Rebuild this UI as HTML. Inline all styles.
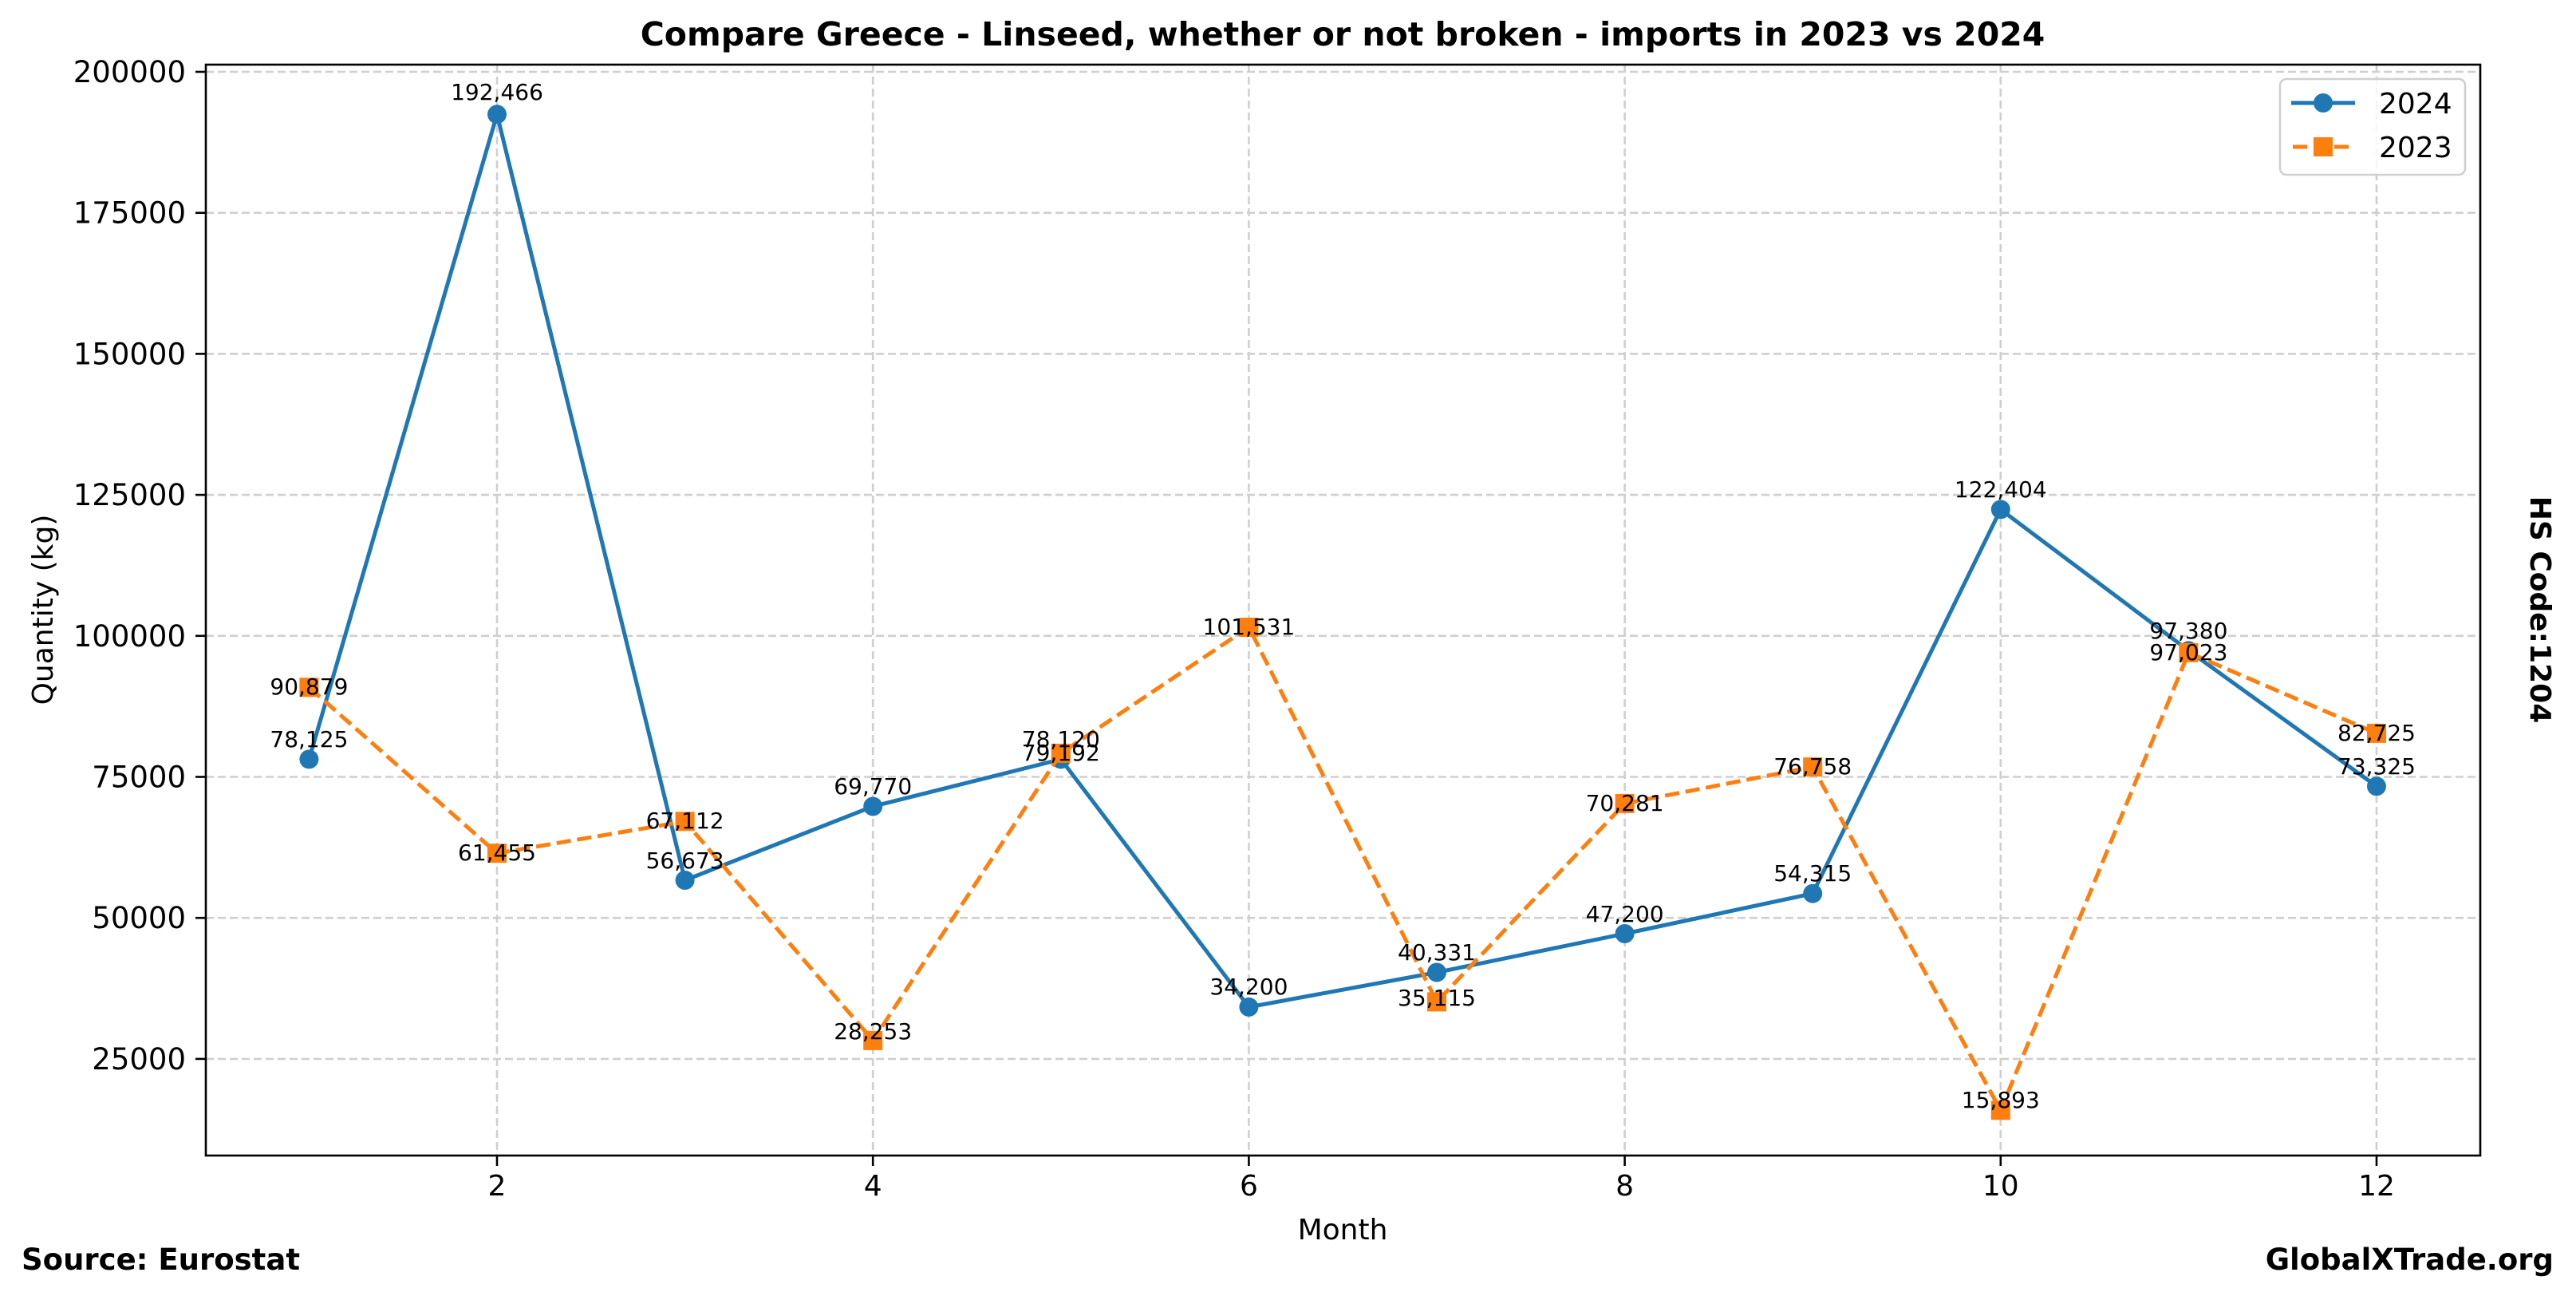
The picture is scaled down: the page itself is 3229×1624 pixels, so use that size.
<!DOCTYPE html>
<html><head><meta charset="utf-8"><style>
html,body{margin:0;padding:0;background:#fff;}
svg{display:block;font-family:"DejaVu Sans","Liberation Sans",sans-serif;}
</style></head><body>
<svg width="3229" height="1624" viewBox="0 0 3229 1624" xmlns="http://www.w3.org/2000/svg">
<rect width="3229" height="1624" fill="#fff"/>
<!-- grid -->
<g stroke="#cfcfcf" stroke-width="2.6" stroke-dasharray="10,5" fill="none">
<line x1="258" x2="3109" y1="90" y2="90"/>
<line x1="258" x2="3109" y1="266.7" y2="266.7"/>
<line x1="258" x2="3109" y1="443.4" y2="443.4"/>
<line x1="258" x2="3109" y1="620.1" y2="620.1"/>
<line x1="258" x2="3109" y1="796.8" y2="796.8"/>
<line x1="258" x2="3109" y1="973.5" y2="973.5"/>
<line x1="258" x2="3109" y1="1150.2" y2="1150.2"/>
<line x1="258" x2="3109" y1="1326.9" y2="1326.9"/>
<line y1="81" y2="1448" x1="623" x2="623"/>
<line y1="81" y2="1448" x1="1094.2" x2="1094.2"/>
<line y1="81" y2="1448" x1="1565.4" x2="1565.4"/>
<line y1="81" y2="1448" x1="2036.6" x2="2036.6"/>
<line y1="81" y2="1448" x1="2507.8" x2="2507.8"/>
<line y1="81" y2="1448" x1="2979" x2="2979"/>
</g>
<!-- 2024 -->
<polyline fill="none" stroke="#1f77b4" stroke-width="5" stroke-linejoin="round" points="387.4,951.4 623,143.3 858.6,1103 1094.2,1010.5 1329.8,951.4 1565.4,1261.9 1801,1218.5 2036.6,1170 2272.2,1119.7 2507.8,638.4 2743.4,815.3 2979,985.3"/>
<g fill="#1f77b4">
<circle cx="387.4" cy="951.4" r="12"/><circle cx="623" cy="143.3" r="12"/><circle cx="858.6" cy="1103" r="12"/><circle cx="1094.2" cy="1010.5" r="12"/><circle cx="1329.8" cy="951.4" r="12"/><circle cx="1565.4" cy="1261.9" r="12"/><circle cx="1801" cy="1218.5" r="12"/><circle cx="2036.6" cy="1170" r="12"/><circle cx="2272.2" cy="1119.7" r="12"/><circle cx="2507.8" cy="638.4" r="12"/><circle cx="2743.4" cy="815.3" r="12"/><circle cx="2979" cy="985.3" r="12"/>
</g>
<!-- 2023 -->
<polyline fill="none" stroke="#ff7f0e" stroke-width="5" stroke-dasharray="18,8" stroke-linejoin="round" points="387.4,861.3 623,1069.2 858.6,1029.3 1094.2,1303.9 1329.8,943.9 1565.4,786 1801,1255.4 2036.6,1006.9 2272.2,961.1 2507.8,1391.3 2743.4,817.8 2979,918.9"/>
<g fill="#ff7f0e">
<rect x="375.4" y="849.3" width="24" height="24"/><rect x="611" y="1057.2" width="24" height="24"/><rect x="846.6" y="1017.3" width="24" height="24"/><rect x="1082.2" y="1291.9" width="24" height="24"/><rect x="1317.8" y="931.9" width="24" height="24"/><rect x="1553.4" y="774" width="24" height="24"/><rect x="1789" y="1243.4" width="24" height="24"/><rect x="2024.6" y="994.9" width="24" height="24"/><rect x="2260.2" y="949.1" width="24" height="24"/><rect x="2495.8" y="1379.3" width="24" height="24"/><rect x="2731.4" y="805.8" width="24" height="24"/><rect x="2967" y="906.9" width="24" height="24"/>
</g>
<!-- annotations -->
<g font-size="28" text-anchor="middle" fill="#000">
<text x="387.4" y="936">78,125</text><text x="623" y="125">192,466</text><text x="858.6" y="1088">56,673</text><text x="1094.2" y="995">69,770</text><text x="1329.8" y="936">78,120</text><text x="1565.4" y="1246">34,200</text><text x="1801" y="1203">40,331</text><text x="2036.6" y="1155">47,200</text><text x="2272.2" y="1104">54,315</text><text x="2507.8" y="623">122,404</text><text x="2743.4" y="800">97,380</text><text x="2979" y="970">73,325</text>
<text x="387.4" y="870">90,879</text><text x="623" y="1078">61,455</text><text x="858.6" y="1038">67,112</text><text x="1094.2" y="1302">28,253</text><text x="1329.8" y="953">79,192</text><text x="1565.4" y="795">101,531</text><text x="1801" y="1260">35,115</text><text x="2036.6" y="1016">70,281</text><text x="2272.2" y="970">76,758</text><text x="2507.8" y="1388">15,893</text><text x="2743.4" y="827">97,023</text><text x="2979" y="928">82,725</text>
</g>
<!-- axes -->
<rect x="258" y="81" width="2851" height="1367" fill="none" stroke="#000" stroke-width="2.6"/>
<g stroke="#000" stroke-width="2.6">
<line x1="245" x2="258" y1="90" y2="90"/><line x1="245" x2="258" y1="266.7" y2="266.7"/><line x1="245" x2="258" y1="443.4" y2="443.4"/><line x1="245" x2="258" y1="620.1" y2="620.1"/><line x1="245" x2="258" y1="796.8" y2="796.8"/><line x1="245" x2="258" y1="973.5" y2="973.5"/><line x1="245" x2="258" y1="1150.2" y2="1150.2"/><line x1="245" x2="258" y1="1326.9" y2="1326.9"/>
<line y1="1448" y2="1461" x1="623" x2="623"/><line y1="1448" y2="1461" x1="1094.2" x2="1094.2"/><line y1="1448" y2="1461" x1="1565.4" x2="1565.4"/><line y1="1448" y2="1461" x1="2036.6" x2="2036.6"/><line y1="1448" y2="1461" x1="2507.8" x2="2507.8"/><line y1="1448" y2="1461" x1="2979" x2="2979"/>
</g>
<g font-size="37" text-anchor="end">
<text x="233" y="103">200000</text><text x="233" y="279.7">175000</text><text x="233" y="456.4">150000</text><text x="233" y="633.1">125000</text><text x="233" y="809.8">100000</text><text x="233" y="986.5">75000</text><text x="233" y="1163.2">50000</text><text x="233" y="1339.9">25000</text>
</g>
<g font-size="36" text-anchor="middle">
<text x="623" y="1498">2</text><text x="1094.2" y="1498">4</text><text x="1565.4" y="1498">6</text><text x="2036.6" y="1498">8</text><text x="2507.8" y="1498">10</text><text x="2979" y="1498">12</text>
<text x="1683" y="1553">Month</text>
<text transform="translate(66,764) rotate(-90)">Quantity (kg)</text>
</g>
<text x="1683" y="57" font-size="41" font-weight="bold" text-anchor="middle">Compare Greece - Linseed, whether or not broken - imports in 2023 vs 2024</text>
<text transform="translate(3172,764) rotate(90)" font-size="36" font-weight="bold" text-anchor="middle">HS Code:1204</text>
<text x="27" y="1591" font-size="37" font-weight="bold">Source: Eurostat</text>
<text x="3201" y="1591" font-size="37" font-weight="bold" text-anchor="end">GlobalXTrade.org</text>
<!-- legend -->
<rect x="2858" y="99" width="232" height="120" rx="8" fill="#fff" fill-opacity="0.8" stroke="#d0d0d0" stroke-width="2.6"/>
<line x1="2872" x2="2952" y1="129" y2="129" stroke="#1f77b4" stroke-width="5"/>
<circle cx="2912" cy="129" r="12" fill="#1f77b4"/>
<line x1="2874" x2="2950" y1="184" y2="184" stroke="#ff7f0e" stroke-width="5" stroke-dasharray="18,8"/>
<rect x="2900" y="172" width="24" height="24" fill="#ff7f0e"/>
<text x="2982" y="142" font-size="36">2024</text>
<text x="2982" y="197" font-size="36">2023</text>
</svg>
</body></html>
